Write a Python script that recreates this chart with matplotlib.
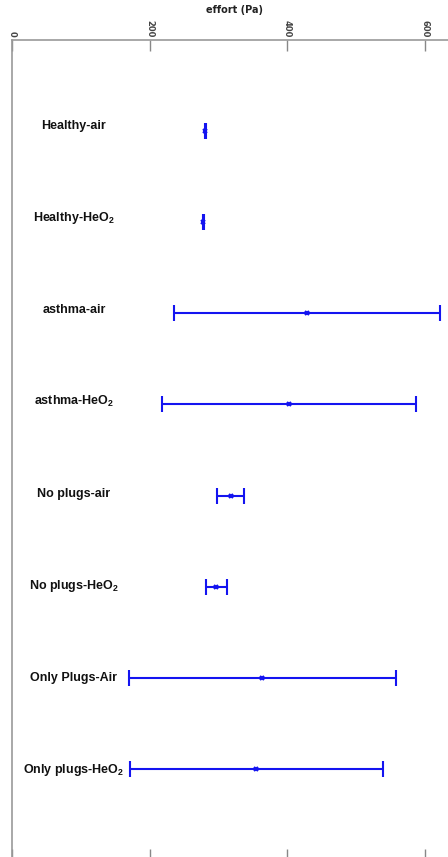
import numpy as np
import matplotlib.pyplot as plt

# groups and effort (Pa): mean with +/- spread
groups = ['Healthy-air', 'Healthy-HeO$_\\mathregular{2}$', 'asthma-air', 'asthma-HeO$_\\mathregular{2}$',
          'No plugs-air', 'No plugs-HeO$_\\mathregular{2}$', 'Only Plugs-Air', 'Only plugs-HeO$_\\mathregular{2}$']
effort_mean = [281, 278, 429, 403, 318, 297, 364, 355]
effort_err = [0.5, 0.5, 194, 185, 20, 15, 194, 184]
xticks = [0, 200, 400, 600]

fig = plt.figure(figsize=(4.48, 8.57), dpi=100)
ax = fig.add_axes([12 / 448, -3 / 857, 1 - 12 / 448, (860 - 40) / 857])

ypos = np.arange(len(groups))
ax.errorbar(effort_mean, ypos, xerr=effort_err, fmt='x', color='#1414f0',
            ecolor='#1414f0', elinewidth=1.5, capsize=6, capthick=1.5,
            markersize=3, mew=1.5, linestyle='none')

# labels sit a little above their bars at the top, drifting to bar level at the bottom
for y, name in zip(ypos, groups):
    ax.text(90, y - 0.055 + 0.009 * y, name, ha='center', va='center', fontsize=9,
            fontweight='bold', family=['Liberation Sans', 'DejaVu Sans'], color='#111111')

ax.set_xlim(0, 634)
ax.set_ylim(len(groups), -1)
ax.set_yticks([])
ax.set_xticks(xticks)
ax.xaxis.set_ticks_position('both')
ax.xaxis.set_label_position('top')
ax.tick_params(axis='x', direction='in', length=8, width=1, color='#888888',
               labeltop=True, labelbottom=False, labelsize=6, labelrotation=-90, pad=2)
for lab in ax.get_xticklabels():
    lab.set_fontweight('bold')
    lab.set_color('#444444')
ax.set_xlabel('effort (Pa)', fontsize=7, fontweight='bold', color='#222222')
ax.xaxis.set_label_coords(0.511, 1.0 + 27 / 820)

for side in ['right', 'bottom']:
    ax.spines[side].set_visible(False)
for side in ['top', 'left']:
    ax.spines[side].set_color('#999999')
    ax.spines[side].set_linewidth(1.2)

fig.savefig('out.png', dpi=100)
